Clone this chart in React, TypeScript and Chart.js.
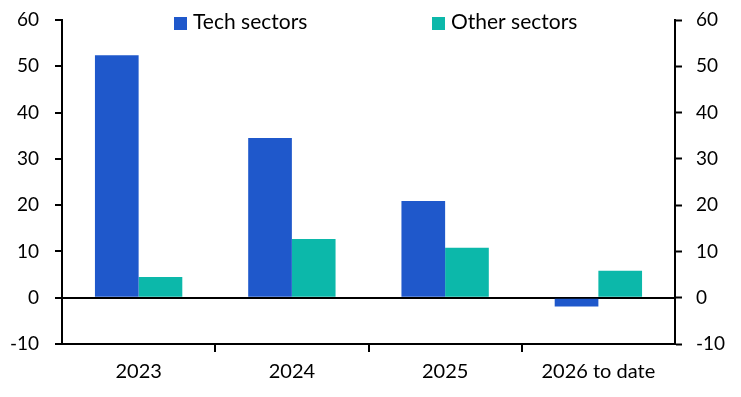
import React, { useEffect, useRef } from "react";
import { Chart, registerables } from "chart.js";

Chart.register(...registerables);

const categories = ["2023", "2024", "2025", "2026 to date"];
const techValues = [52.4, 34.5, 20.9, -1.9];
const otherValues = [4.5, 12.7, 10.8, 5.8];
const seriesNames = ["Tech sectors", "Other sectors"];
const seriesColors = ["#1F58CB", "#0CB8AA"];
const yMin = -10;
const yMax = 60;
const yStep = 10;

const FONT = "Lato, 'Noto Sans', sans-serif";

const legendPlugin = {
  id: "topLegend",
  afterDraw(chart: any) {
    const ctx = chart.ctx;
    ctx.save();
    ctx.font = `21px ${FONT}`;
    ctx.textBaseline = "middle";
    ctx.textAlign = "left";
    const y = 22;
    const starts = [174, 432];
    chart.data.datasets.forEach((ds: any, i: number) => {
      const x = starts[i];
      ctx.fillStyle = ds.backgroundColor;
      ctx.fillRect(x, y - 5, 13, 13);
      ctx.fillStyle = "#000";
      ctx.fillText(ds.label, x + 19, y);
    });
    ctx.restore();
  },
};

const fixY = (w: number) => (s: any) => {
  s.width = w;
  s.paddingTop = 0;
  s.paddingBottom = 0;
};

export default function App() {
  const ref = useRef<HTMLCanvasElement | null>(null);
  useEffect(() => {
    if (!ref.current) return;
    const chart = new Chart(ref.current, {
      type: "bar",
      data: {
        labels: categories,
        datasets: [
          { label: seriesNames[0], data: techValues, backgroundColor: seriesColors[0], yAxisID: "y" },
          { label: seriesNames[1], data: otherValues, backgroundColor: seriesColors[1], yAxisID: "y" },
        ],
      },
      options: {
        animation: false,
        responsive: false,
        maintainAspectRatio: false,
        layout: { padding: { top: 20, right: 0, left: 0, bottom: 0 } },
        datasets: { bar: { categoryPercentage: 0.57, barPercentage: 1.0 } },
        plugins: { legend: { display: false }, tooltip: { enabled: false } },
        scales: {
          x: {
            offset: true,
            afterFit: (s: any) => {
              s.height = 53;
              s.paddingLeft = 0;
              s.paddingRight = 0;
            },
            grid: {
              offset: true,
              drawOnChartArea: false,
              drawTicks: true,
              tickLength: 8,
              tickWidth: 2,
              tickColor: (c: any) =>
                typeof c.index === "number" && c.index > 0 && c.index < categories.length
                  ? "#000"
                  : "rgba(0,0,0,0)",
              lineWidth: 2,
            },
            border: { display: true, color: "#000", width: 2 },
            ticks: { color: "#000", font: { family: FONT, size: 20 }, padding: 8 },
          },
          y: {
            position: "left",
            min: yMin,
            max: yMax,
            afterFit: fixY(62),
            ticks: { stepSize: yStep, color: "#000", font: { family: FONT, size: 19 }, padding: 16 },
            grid: {
              drawOnChartArea: true,
              drawTicks: true,
              tickLength: 7,
              tickColor: "#000",
              tickWidth: 2,
              color: (c: any) => (c.tick && c.tick.value === 0 ? "#000" : "rgba(0,0,0,0)"),
              lineWidth: 2,
            },
            border: { display: true, color: "#000", width: 2 },
          },
          y2: {
            position: "right",
            min: yMin,
            max: yMax,
            afterFit: fixY(66),
            ticks: { stepSize: yStep, color: "#000", font: { family: FONT, size: 19 }, padding: 14 },
            grid: {
              drawOnChartArea: false,
              drawTicks: true,
              tickLength: 7,
              tickColor: "#000",
              tickWidth: 2,
            },
            border: { display: true, color: "#000", width: 2 },
          },
        },
      },
      plugins: [legendPlugin],
    });
    return () => chart.destroy();
  }, []);
  return (
    <div style={{ position: "fixed", left: 0, top: 0, width: 741, height: 397, background: "#fff" }}>
      <canvas ref={ref} width={741} height={397} style={{ width: 741, height: 397 }} />
    </div>
  );
}
